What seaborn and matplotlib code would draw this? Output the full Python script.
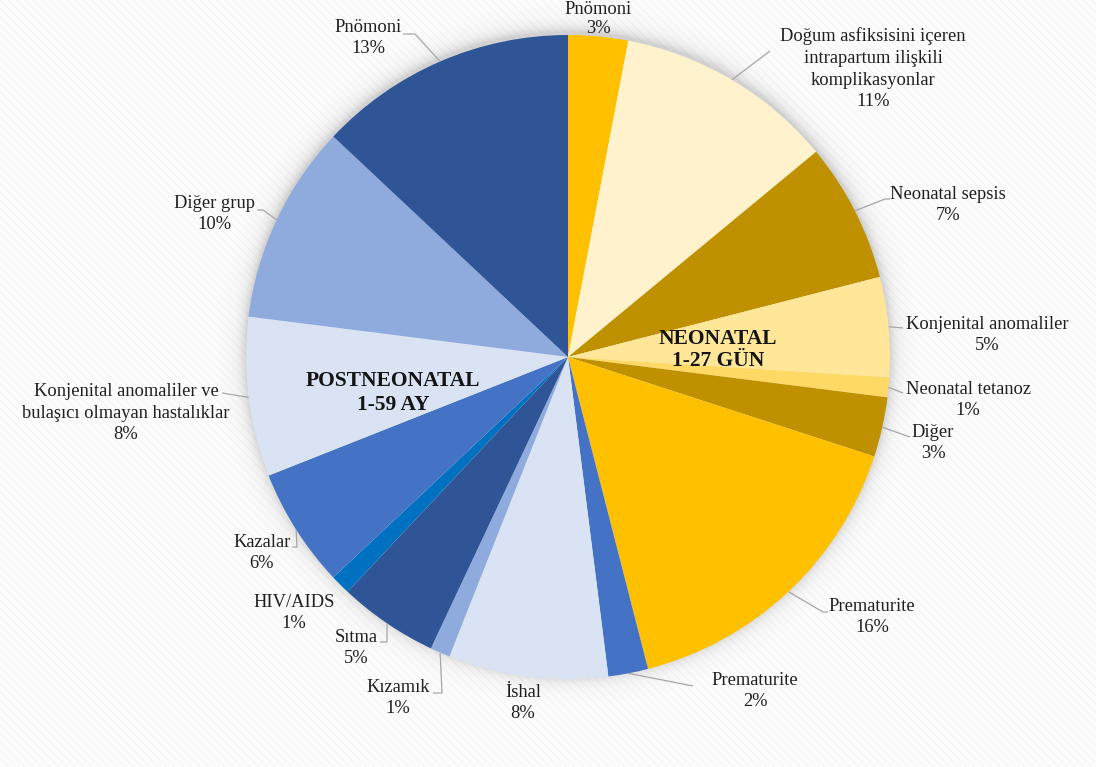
import numpy as np
import matplotlib
matplotlib.use("Agg")
import matplotlib.pyplot as plt
import seaborn as sns
from matplotlib.patches import Rectangle

# Causes of under-five deaths, clockwise from 12 o'clock
causes = [
    "Pnömoni",
    "Doğum asfiksisini içeren\nintrapartum ilişkili\nkomplikasyonlar",
    "Neonatal sepsis",
    "Konjenital anomaliler",
    "Neonatal tetanoz",
    "Diğer",
    "Prematurite",
    "Prematurite",
    "İshal",
    "Kızamık",
    "Sıtma",
    "HIV/AIDS",
    "Kazalar",
    "Konjenital anomaliler ve\nbulaşıcı olmayan hastalıklar",
    "Diğer grup",
    "Pnömoni",
]
shares = [3, 11, 7, 5, 1, 3, 16, 2, 8, 1, 5, 1, 6, 8, 10, 13]
slice_colors = [
    "#FFC000", "#FFF2CC", "#BF9000", "#FFE699", "#FFD966", "#BF9000",
    "#FFC000", "#4472C4", "#DAE3F3", "#8FAADC", "#2F5597", "#0070C0",
    "#4472C4", "#DAE3F3", "#8FAADC", "#2F5597",
]
group_titles = ["NEONATAL\n1-27 GÜN", "POSTNEONATAL\n1-59 AY"]

# Layout (pixel coordinates, y measured from the top)
W, H = 1096, 767
PIE_CX, PIE_CY, PIE_R = 568, 357, 322
label_pos = [
    (598, 19), (873, 69), (948, 205), (987, 335), (968, 400), (933, 443),
    (872, 617), (755, 691), (523, 703), (398, 698), (356, 648), (294, 613),
    (262, 553), (126, 413), (214, 214), (368, 38),
]
# per-label line spacing (the top label is squeezed between the edge and the pie)
label_spacing = [1.2] + [1.36] * 15
# leader line path (after the point on the rim) for each label, None = no line
leader_paths = [
    None,
    [(770, 51)],
    [(885, 199), (890, 199)],
    [(903, 328)],
    [(903, 393)],
    [(910, 437)],
    [(823, 612), (828, 612)],
    [(693, 686)],
    None,
    [(442, 693), (433, 693)],
    [(387, 642), (380, 642)],
    None,
    [(297, 547), (292, 547)],
    [(222, 393)],
    [(263, 210), (257, 210)],
    [(415, 34), (403, 34)],
]
group_pos = [(718, 350), (393, 393)]

sns.set_theme(style="white")
plt.rcParams["font.family"] = ["Liberation Serif", "DejaVu Serif"]
plt.rcParams["hatch.linewidth"] = 0.6


def fy(y):
    return H - y


fig = plt.figure(figsize=(W / 100, H / 100), dpi=100)
fig.patch.set_facecolor("white")
ax = fig.add_axes([0, 0, 1, 1])

# faint striped backdrop
ax.add_patch(Rectangle((0, 0), W, H, facecolor="#FCFCFC", edgecolor="#F2F2F2",
                       hatch="\\\\\\\\", lw=0, zorder=0))

# soft shadow around the pie
cx, cy = PIE_CX, fy(PIE_CY)
yy, xx = np.mgrid[0:H, 0:W] + 0.5
d = np.hypot(xx - cx, yy - cy - 3)
alpha = np.where(d > PIE_R - 4, 0.30 * np.exp(-np.clip(d - PIE_R, 0, None) / 7.0), 0.0)
shadow = np.zeros((H, W, 4))
shadow[..., :3] = 0.45
shadow[..., 3] = alpha
ax.imshow(shadow, extent=(0, W, 0, H), origin="lower", zorder=1, interpolation="bilinear")

palette = sns.color_palette(slice_colors)
wedges, _ = ax.pie(shares, colors=palette, startangle=90, counterclock=False,
                   center=(cx, cy), radius=PIE_R,
                   wedgeprops=dict(linewidth=0, zorder=2))
for w in wedges:
    w.set_zorder(2)

ax.set_xlim(0, W)
ax.set_ylim(0, H)
ax.set_aspect("equal")
ax.axis("off")

text_color = "#1F1F1F"
for w, name, val, pos, ls, path in zip(wedges, causes, shares, label_pos,
                                       label_spacing, leader_paths):
    ax.text(pos[0], fy(pos[1]), f"{name}\n{val}%", ha="center", va="center",
            fontsize=13.3, color=text_color, linespacing=ls, zorder=4)
    if path is not None:
        mid = np.deg2rad((w.theta1 + w.theta2) / 2)
        xs = [cx + PIE_R * np.cos(mid)] + [p[0] for p in path]
        ys = [cy + PIE_R * np.sin(mid)] + [fy(p[1]) for p in path]
        ax.plot(xs, ys, color="#A6A6A6", lw=0.9, zorder=3, solid_capstyle="butt")

for title, pos in zip(group_titles, group_pos):
    ax.text(pos[0], fy(pos[1]), title, ha="center", va="center", fontsize=15.5,
            fontweight="bold", color="#141414", linespacing=1.2, zorder=4)

fig.savefig("out.png", dpi=100, facecolor="white")
